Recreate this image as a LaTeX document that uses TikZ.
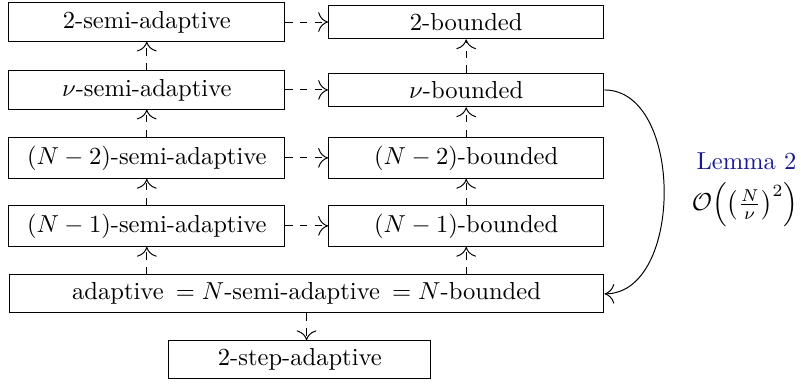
\documentclass[tikz,border=0pt]{standalone}
\usepackage{amsmath,amssymb}
\usetikzlibrary{arrows.meta,positioning,calc}
\definecolor{lemmablue}{RGB}{25,25,150}
\tikzset{
  box/.style={draw, rectangle, align=center, inner sep=3.33pt, fill=white},
  lbox/.style={box, minimum width=3.95cm},
  rbox/.style={box, minimum width=3.94cm},
  arr/.style={-{To[length=4pt, width=8pt]}},
  darr/.style={arr, dashed},
  lbl/.style={align=center, inner sep=1pt},
}
\begin{document}
\begin{tikzpicture}
\useasboundingbox (0,0) rectangle (11.46,-5.52);
\node[lbox] (sa2) at (2.10,-0.315) {2-semi-adaptive};
\node[rbox] (bd2) at (6.67,-0.315) {2-bounded};
\node[lbox] (sanu) at (2.10,-1.287) {$\nu$-semi-adaptive};
\node[rbox] (bdnu) at (6.67,-1.287) {$\nu$-bounded};
\node[lbox] (sam2) at (2.10,-2.259) {$(N-2)$-semi-adaptive};
\node[rbox] (bdm2) at (6.67,-2.259) {$(N-2)$-bounded};
\node[lbox] (sam1) at (2.10,-3.232) {$(N-1)$-semi-adaptive};
\node[rbox] (bdm1) at (6.67,-3.232) {$(N-1)$-bounded};
\node[box, minimum width=8.51cm] (ad) at (4.386,-4.204) {adaptive $\,= N$-semi-adaptive $\,= N$-bounded};
\node[box, minimum width=3.75cm] (two) at (4.29,-5.148) {2-step-adaptive};
% semi-adaptive implies bounded
\draw[darr] (sa2.east) -- (bd2.west);
\draw[darr] (sanu.east) -- (bdnu.west);
\draw[darr] (sam2.east) -- (bdm2.west);
\draw[darr] (sam1.east) -- (bdm1.west);
% up the columns
\draw[darr] (ad.north -| sam1) -- (sam1);
\draw[darr] (sam1) -- (sam2);
\draw[darr] (sam2) -- (sanu);
\draw[darr] (sanu) -- (sa2);
\draw[darr] (ad.north -| bdm1) -- (bdm1);
\draw[darr] (bdm1) -- (bdm2);
\draw[darr] (bdm2) -- (bdnu);
\draw[darr] (bdnu) -- (bd2);
\draw[darr] (ad.south) -- (ad.south |- two.north);
% lemma
\draw[arr] (bdnu.east) to[out=0, in=0] (ad.east);
\node[lbl, text=lemmablue] (lem) at (10.68,-2.31) {Lemma 2};
\node[lbl] (cost) at (10.66,-2.93) {$\mathcal{O}\Bigl(\bigl(\frac{N}{\nu}\bigr)^2\Bigr)$};
\end{tikzpicture}
\end{document}
